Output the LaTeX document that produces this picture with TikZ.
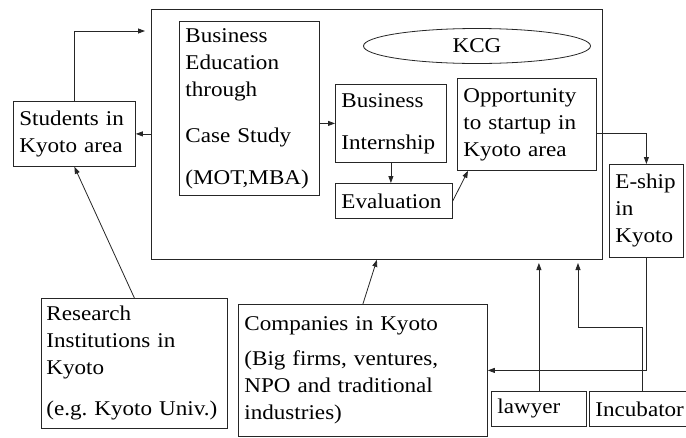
\documentclass[tikz,border=0pt]{standalone}
\usepackage{fontspec}
\setmainfont{Liberation Serif}[FakeStretch=1.1]
\frenchspacing
\usetikzlibrary{arrows.meta,shapes.geometric,calc}

\tikzset{
  box/.style={draw=black!85, line width=0.8pt, anchor=north west, align=left,
    inner xsep=6pt, inner ysep=2pt, font=\fontsize{21}{27}\selectfont},
  arr/.style={draw=black!85, line width=0.8pt, -{Triangle[length=7pt,width=5pt]}},
}

\begin{document}
\begin{tikzpicture}[x=1pt, y=-1pt]
        \useasboundingbox (0,0) rectangle (686,437);

        % KCG frame
        \node[draw=black!85, line width=0.8pt, anchor=north west, minimum width=451pt,
              minimum height=250pt, inner sep=0pt] (main) at (151,9) {};
        \node[draw=black!85, line width=0.8pt, ellipse, minimum width=227pt, minimum height=35pt,
              inner sep=0pt, font=\fontsize{21}{27}\selectfont] (kcg) at (477,46) {KCG};

        % Inside KCG
        \node[box, text width=128pt, minimum height=174pt] (edu) at (179,21)
            {Business\\Education\\through\\[19pt]Case Study\\[15pt](MOT,MBA)};
        \node[box, text width=99pt, minimum height=78pt] (intern) at (335,84)
            {Business\\[15pt]Internship};
        \node[box, text width=105pt, minimum height=35pt] (eval) at (335,183) {Evaluation};
        \node[box, text width=127pt, minimum height=92pt] (opp) at (457,78)
            {Opportunity\\to startup in\\Kyoto area};

        % Around KCG
        \node[box, text width=110pt, minimum height=65pt] (stud) at (13,101)
            {Students in\\Kyoto area};
        \node[box, text width=62pt, minimum height=93pt] (eship) at (609,164)
            {E-ship\\in\\Kyoto};
        \node[box, inner xsep=5pt, text width=176pt, minimum height=130pt] (res) at (41,298)
            {Research\\Institutions in\\Kyoto\\[14pt](e.g. Kyoto Univ.)};
        \node[box, text width=237pt, minimum height=132pt] (comp) at (238,304)
            {Companies in Kyoto\\[8pt](Big firms, ventures,\\NPO and traditional\\industries)};
        \node[box, text width=83pt, minimum height=35pt] (lawyer) at (491,391) {lawyer};
        \node[box, text width=94pt, minimum height=35pt] (incub) at (589,391) {Incubator};

        % Free ends
        \coordinate (studTip) at (145,31);
        \coordinate (lawTip) at (538,263);
        \coordinate (incBend) at (578,327);
        \coordinate (incTip) at (578,263);

        % Flows
        \draw[arr] (stud.north) |- (studTip);
        \draw[arr] (main.west |- stud.east) -- (stud.east);
        \draw[arr] (edu.east |- intern.west) -- (intern.west);
        \draw[arr] (intern.south) -- (intern.south |- eval.north);
        \draw[arr] (eval.east) -- ($(opp.south west)+(11,0)$);
        \draw[arr] ([yshift=-9pt]opp.east) -| (eship.north);
        \draw[arr] (eship.south) |- (comp.east);
        \draw[arr] (res.north) -- (stud.south);
        \draw[arr] (comp.north) -- (main.south);
        \draw[arr] (lawyer.north) -- (lawyer.north |- lawTip);
        \draw[arr] (incub.north) |- (incBend) -- (incTip);
\end{tikzpicture}
\end{document}
